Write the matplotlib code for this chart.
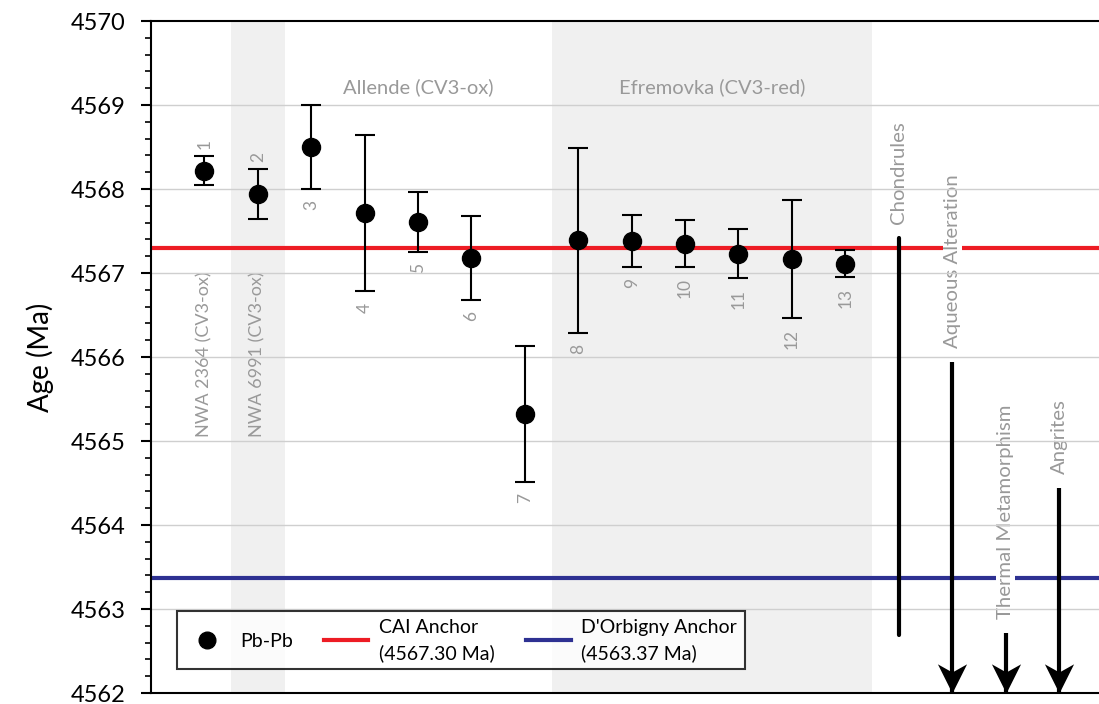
import numpy as np
import matplotlib
matplotlib.use("Agg")
import matplotlib.pyplot as plt
from matplotlib.lines import Line2D
from matplotlib.path import Path

plt.rcParams['font.family'] = ['Lato', 'DejaVu Sans']

# Pb-Pb ages of individual CAIs (Ma) with 2-sigma uncertainties
sample_ids = ['1', '2', '3', '4', '5', '6', '7', '8', '9', '10', '11', '12', '13']
ages = [4568.22, 4567.94, 4568.50, 4567.71, 4567.61, 4567.18, 4565.32,
        4567.39, 4567.38, 4567.35, 4567.23, 4567.17, 4567.11]
errors = [0.17, 0.30, 0.50, 0.93, 0.36, 0.50, 0.81,
          1.10, 0.31, 0.28, 0.29, 0.70, 0.16]

# Reference anchors
cai_anchor = 4567.30
dorbigny_anchor = 4563.37

# Other solar-system events: (label, start age, end age, arrow continues)
event_names = ['Chondrules', 'Aqueous Alteration', 'Thermal Metamorphism', 'Angrites']
event_start = [4567.42, 4565.94, 4562.71, 4564.44]
event_end = [4562.69, 4562.0, 4562.0, 4562.0]
event_arrow = [False, True, True, True]

meteorite_labels = ['NWA 2364 (CV3-ox)', 'NWA 6991 (CV3-ox)']
group_titles = ['Allende (CV3-ox)', 'Efremovka (CV3-red)']

GRAY_TEXT = '#999999'
RED = '#ED1C24'
BLUE = '#2E3192'
SHADE = '#F0F0F0'

fig = plt.figure(figsize=(10.99, 7.04), dpi=100)
ax = fig.add_axes([151 / 1099, 11 / 704, 948 / 1099, 672 / 704])

x = np.arange(1, len(ages) + 1)
x_events = np.arange(len(ages) + 1, len(ages) + 1 + len(event_names))

ax.set_xlim(0, 17.75)
ax.set_ylim(4562, 4570)

# shaded sample groups
ax.axvspan(1.5, 2.5, color=SHADE, zorder=0, lw=0)
ax.axvspan(7.5, 13.5, color=SHADE, zorder=0, lw=0)

# horizontal grid
for yv in range(4563, 4570):
    ax.axhline(yv, color='#CFCFCF', lw=1.0, zorder=2)

# anchors
ax.axhline(cai_anchor, color=RED, lw=3, zorder=1)
ax.axhline(dorbigny_anchor, color=BLUE, lw=3, zorder=1)

# data with error bars
ax.errorbar(x, ages, yerr=errors, fmt='none', ecolor='black', elinewidth=1.5,
            capsize=7.5, capthick=1.5, zorder=4)
ax.plot(x, ages, 'o', color='black', ms=13, zorder=5)

# sample numbers
for i, (xi, a, e, lab) in enumerate(zip(x, ages, errors, sample_ids)):
    if i < 2:
        ax.annotate(lab, (xi, a + e), xytext=(0, 5), textcoords='offset points',
                    rotation=90, ha='center', va='bottom', fontsize=12.5,
                    color=GRAY_TEXT, zorder=3)
    else:
        ax.annotate(lab, (xi, a - e), xytext=(0, -8), textcoords='offset points',
                    rotation=90, ha='center', va='top', fontsize=12.5,
                    color=GRAY_TEXT, zorder=3)

# meteorite names for the first two samples
for xi, lab in zip(x[:2], meteorite_labels):
    ax.text(xi, 4565.05, lab, rotation=90, ha='center', va='bottom',
            fontsize=13, color=GRAY_TEXT, zorder=1.5)

# group titles
ax.text(5.0, 4569.21, group_titles[0], ha='center', va='center',
        fontsize=14.5, color=GRAY_TEXT)
ax.text(10.5, 4569.21, group_titles[1], ha='center', va='center',
        fontsize=14.5, color=GRAY_TEXT)

# stealth-style arrow head with the tip at the origin
head = Path([(0, 0), (-0.5, 1.0), (0, 0.72), (0.5, 1.0), (0, 0)],
            [Path.MOVETO, Path.LINETO, Path.LINETO, Path.LINETO, Path.CLOSEPOLY])

for xe, name, y0, y1, arr in zip(x_events, event_names, event_start, event_end, event_arrow):
    ax.plot([xe, xe], [y0, y1], color='black', lw=3,
            solid_capstyle='round' if not arr else 'butt', zorder=3, clip_on=False)
    if arr:
        ax.plot([xe], [y1], marker=head, ms=42, color='black', mew=0,
                zorder=3, clip_on=False)
    ax.annotate(name, (xe, y0), xytext=(0, 10), textcoords='offset points',
                rotation=90, ha='center', va='bottom', fontsize=14.7,
                color=GRAY_TEXT, zorder=1.5,
                bbox=dict(boxstyle='square,pad=0.05', fc='white', ec='none'))

# axes styling
for side in ['top', 'left', 'bottom']:
    ax.spines[side].set_linewidth(1.5)
ax.spines['right'].set_visible(False)
ax.set_xticks([])
ax.set_yticks(np.arange(4562, 4571, 1))
ax.set_yticks(np.arange(4562, 4570.01, 0.2), minor=True)
ax.tick_params(axis='y', which='major', length=7.5, width=1.5, labelsize=17, pad=11)
ax.tick_params(axis='y', which='minor', length=4.5, width=1.2)
ax.set_ylabel('Age (Ma)', fontsize=20, labelpad=12)

handles = [
    Line2D([], [], marker='o', color='black', ls='none', ms=12),
    Line2D([], [], color=RED, lw=3),
    Line2D([], [], color=BLUE, lw=3),
]
labels = ['Pb-Pb', 'CAI Anchor\n(4567.30 Ma)', "D'Orbigny Anchor\n(4563.37 Ma)"]
leg = ax.legend(handles, labels, ncol=3, loc='lower left',
                bbox_to_anchor=(0.027, 0.035), borderaxespad=0, fontsize=14,
                frameon=True, fancybox=False, edgecolor='black',
                handlelength=2.3, handletextpad=0.55, columnspacing=1.6,
                borderpad=0.4)
for t in leg.get_texts():
    t.set_linespacing(1.55)
leg.get_frame().set_linewidth(1.5)
leg.set_zorder(6)

fig.savefig('out.png', dpi=100, facecolor='white')
